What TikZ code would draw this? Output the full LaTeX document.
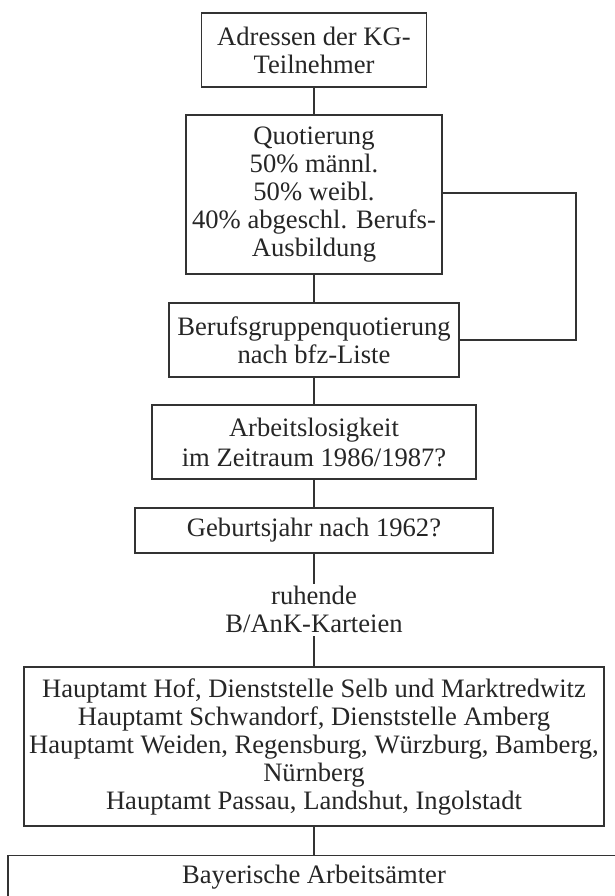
\documentclass[tikz,border=0pt]{standalone}
\usepackage{fontspec}
\setmainfont{Liberation Serif}
\begin{document}
\begin{tikzpicture}[x=1pt,y=-1pt,
  ink/.style={draw=black!80, line width=1.1pt},
  fbox/.style={ink, align=center, inner sep=0pt, text=black!85,
    font=\fontsize{26.6}{28}\selectfont},
  plain/.style={align=center, inner sep=0pt, text=black!85,
    font=\fontsize{26.6}{28}\selectfont}]
\useasboundingbox (0,0) rectangle (615,896);
\fill[white] (0,0) rectangle (615,896);
\begin{scope}
\clip (0,0) rectangle (615,896);
\node[fbox, minimum width=225pt, minimum height=74pt] (b1) at (314,50)
  {Adressen der KG-\\Teilnehmer};
\node[fbox, minimum width=256pt, minimum height=159pt] (b2) at (314,194.5)
  {Quotierung\\50\% männl.\\50\% weibl.\\40\% abgeschl. Berufs-\\Ausbildung};
\node[fbox, minimum width=290pt, minimum height=74pt] (b3) at (314,340)
  {Berufsgruppenquotierung\\nach bfz-Liste};
\node[fbox, minimum width=324pt, minimum height=74pt, font=\fontsize{26.6}{30}\selectfont] (b4) at (314,442)
  {Arbeitslosigkeit\\im Zeitraum 1986/1987?};
\node[fbox, minimum width=358pt, minimum height=45pt] (b5) at (314,530.5)
  {Geburtsjahr nach 1962?};
\node[plain, minimum height=58pt] (lab) at (314,609)
  {ruhende\\B/AnK-Karteien};
\node[fbox, minimum width=580pt, minimum height=159pt] (b6) at (314,746.5)
  {Hauptamt Hof, Dienststelle Selb und Marktredwitz\\
   Hauptamt Schwandorf, Dienststelle Amberg\\
   Hauptamt Weiden, Regensburg, Würzburg, Bamberg,\\
   Nürnberg\\
   Hauptamt Passau, Landshut, Ingolstadt};
\node[fbox, anchor=north, minimum width=612pt, minimum height=80pt] (b7) at (314,855) {};
\node[plain] (t7) at (314,877) {Bayerische Arbeitsämter};
\coordinate (k1) at (576,193);
\coordinate (k2) at (576,340);
\draw[ink] (b1.south) -- (b2.north);
\draw[ink] (b2.south) -- (b3.north);
\draw[ink] (b3.south) -- (b4.north);
\draw[ink] (b4.south) -- (b5.north);
\draw[ink] (b5.south) -- ([yshift=-4pt]lab.north);
\draw[ink] ([yshift=2pt]lab.south) -- (b6.north);
\draw[ink] (b6.south) -- (b7.north);
\draw[ink] (b2.east |- k1) -- (k1) -- (k2) -- (b3.east);
\end{scope}
\end{tikzpicture}
\end{document}
